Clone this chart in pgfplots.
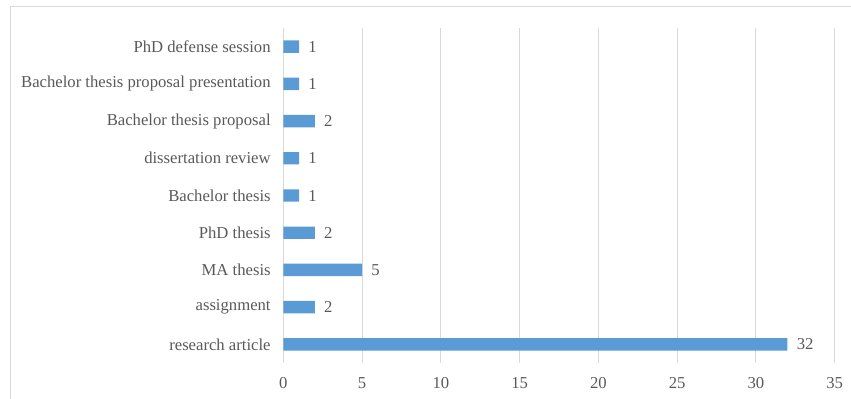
\documentclass[border=0pt]{standalone}
\usepackage{pgfplots}
\pgfplotsset{compat=1.18}
\usepackage{fontspec}
\setmainfont{Liberation Serif}
\definecolor{barblue}{HTML}{5B9BD5}
\definecolor{txtgray}{HTML}{595959}
\definecolor{gridgray}{HTML}{D9D9D9}
\definecolor{framegray}{HTML}{D9D9D9}
\begin{document}
\begin{tikzpicture}
\path[use as bounding box] (0,0) rectangle (638.25pt,299.25pt);
\draw[framegray, line width=0.75pt] (7.5pt,-2pt) -- (7.5pt,294pt) -- (640pt,294pt);
\begin{axis}[
  at={(212.5pt,27pt)}, anchor=south west,
  scale only axis,
  width=413.5pt, height=251.25pt,
  xbar, bar width=9.3pt,
  xmin=0, xmax=35, ymin=-0.5, ymax=8.5,
  xtick={0,5,...,35},
  ytick={0,...,8},
  yticklabels={research article, assignment, MA thesis, PhD thesis, Bachelor thesis, dissertation review, Bachelor thesis proposal, Bachelor thesis proposal presentation, PhD defense session},
  xmajorgrids, major grid style={gridgray, line width=0.75pt},
  axis line style={draw=none},
  axis y line*=left,
  axis x line*=bottom,
  x axis line style={draw=none},
  y axis line style={gridgray, line width=0.75pt},
  tick style={draw=none},
  major tick length=0pt,
  ticklabel style={font=\fontsize{12.5}{14}\selectfont, text=txtgray},
  /pgf/number format/assume math mode=true,
  xticklabel style={yshift=-7.5pt},
  yticklabel style={xshift=-6pt},
  nodes near coords,
  every node near coord/.append style={font=\fontsize{12.5}{14}\selectfont, text=txtgray, anchor=west, xshift=3.5pt},
  clip=false,
]
\addplot[fill=barblue, draw=none] coordinates {
  (32,0) (2,1) (5,2) (2,3) (1,4) (1,5) (2,6) (1,7) (1,8)
};
\end{axis}
\end{tikzpicture}
\end{document}
